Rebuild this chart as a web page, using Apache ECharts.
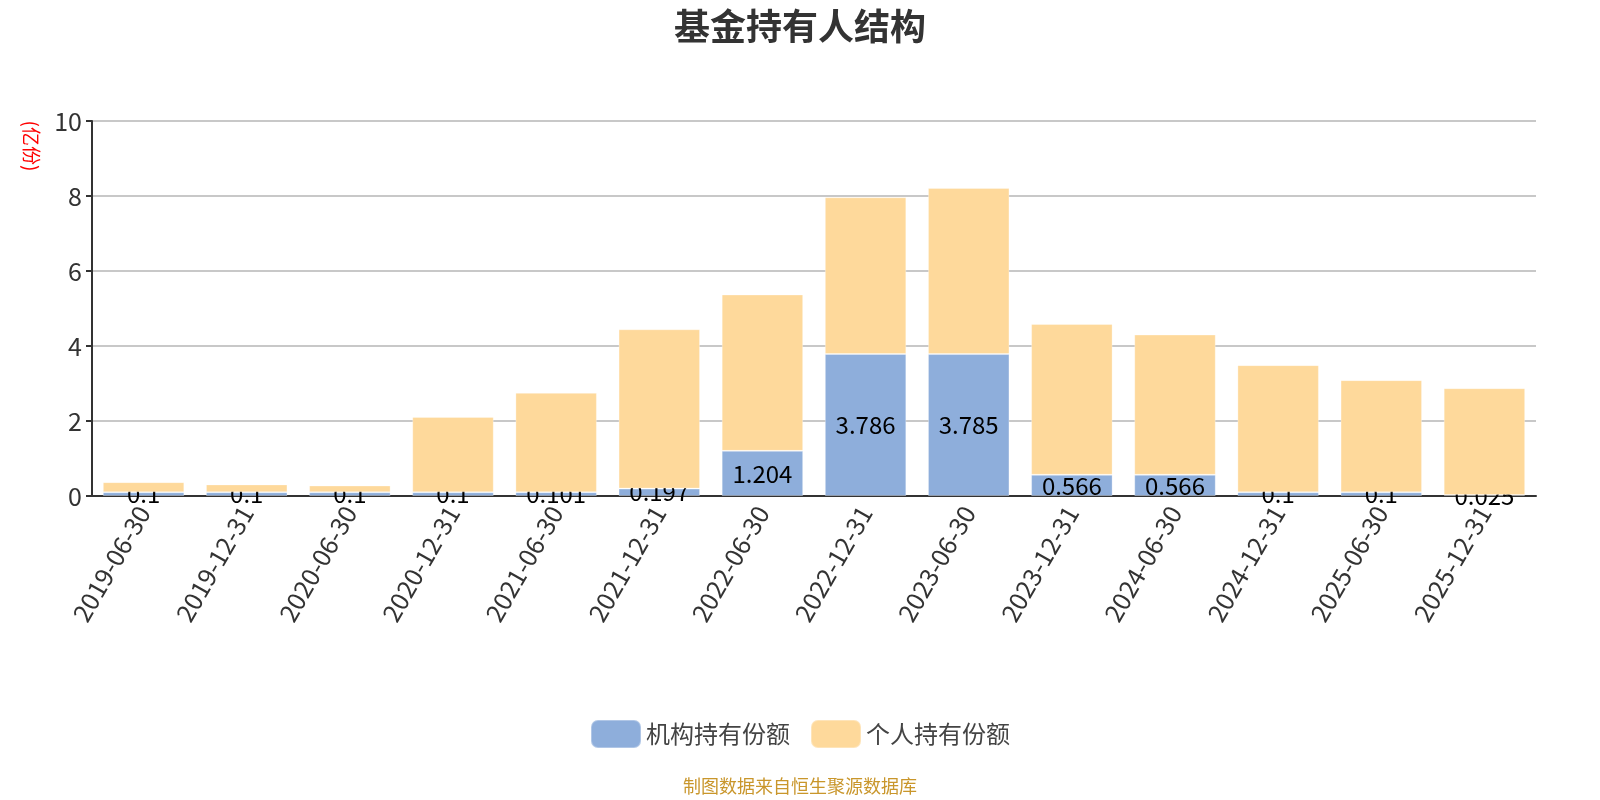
<!DOCTYPE html>
<html>
<head>
<meta charset="utf-8">
<script src="https://cdn.jsdelivr.net/npm/echarts@6/dist/echarts.min.js"></script>
<style>
  html, body { margin: 0; padding: 0; background: #fff; }
  #main { width: 1600px; height: 800px; }
</style>
</head>
<body>
<div id="main"></div>
<script>
// 报告期
var dates = ['2019-06-30', '2019-12-31', '2020-06-30', '2020-12-31', '2021-06-30', '2021-12-31', '2022-06-30',
  '2022-12-31', '2023-06-30', '2023-12-31', '2024-06-30', '2024-12-31', '2025-06-30', '2025-12-31'];
// 机构持有份额(亿份)
var orgShares = [0.1, 0.1, 0.1, 0.1, 0.101, 0.197, 1.204, 3.786, 3.785, 0.566, 0.566, 0.1, 0.1, 0.025];
// 个人持有份额(亿份)
var personShares = [0.27, 0.21, 0.18, 2.01, 2.65, 4.25, 4.17, 4.18, 4.43, 4.02, 3.74, 3.39, 2.99, 2.85];
var yTicks = [0, 2, 4, 6, 8, 10];

var fontName = '"Noto Sans CJK SC", "Noto Sans", sans-serif';

var chart = echarts.init(document.getElementById('main'));

var option = {
  animation: false,
  textStyle: { fontFamily: fontName },
  title: {
    text: '基金持有人结构',
    left: 'center',
    top: 3,
    textStyle: { fontSize: 36, fontWeight: 'bold', color: '#333', fontFamily: fontName }
  },
  legend: {
    bottom: 46,
    left: 'center',
    itemWidth: 50,
    itemHeight: 28,
    itemGap: 20,
    textStyle: { fontSize: 24, color: '#444', fontFamily: fontName },
    data: [
      { name: '机构持有份额', icon: 'roundRect' },
      { name: '个人持有份额', icon: 'roundRect' }
    ]
  },
  grid: {
    left: 92,
    right: 64,
    top: 121,
    bottom: 304
  },
  xAxis: {
    type: 'category',
    data: dates,
    axisLine: { lineStyle: { color: '#333', width: 2 } },
    axisTick: { lineStyle: { color: '#333', width: 2 }, length: 6 },
    axisLabel: { rotate: 60, fontSize: 25, color: '#333', margin: 12, fontFamily: fontName }
  },
  yAxis: {
    type: 'value',
    min: yTicks[0],
    max: yTicks[yTicks.length - 1],
    interval: 2,
    axisLine: { show: true, lineStyle: { color: '#333', width: 2 } },
    axisTick: { show: true, lineStyle: { color: '#333', width: 2 }, length: 6 },
    axisLabel: { fontSize: 25, color: '#333', margin: 10, fontFamily: fontName },
    splitLine: { lineStyle: { color: '#c8c8c8', width: 2 } }
  },
  graphic: [
    {
      type: 'text',
      x: 31,
      y: 146,
      rotation: -Math.PI / 2,
      style: {
        text: '(亿份)',
        fill: '#ff0000',
        font: '19px "Noto Sans CJK SC", sans-serif',
        textAlign: 'center',
        textVerticalAlign: 'middle'
      }
    },
    {
      type: 'text',
      left: 'center',
      top: 777,
      style: {
        text: '制图数据来自恒生聚源数据库',
        fill: '#c9962b',
        font: '18px "Noto Sans CJK SC", sans-serif'
      }
    }
  ],
  series: [
    {
      name: '机构持有份额',
      type: 'bar',
      stack: 'total',
      barWidth: '79%',
      z: 2,
      data: orgShares,
      itemStyle: { color: '#8eaedb', borderColor: 'rgba(255,255,255,0.3)', borderWidth: 1 },
      label: {
        show: true,
        position: 'inside',
        color: '#000',
        fontSize: 24,
        fontFamily: fontName
      }
    },
    {
      name: '个人持有份额',
      type: 'bar',
      stack: 'total',
      barWidth: '79%',
      // 盖住下层标签的上半部分
      z: 3,
      data: personShares,
      itemStyle: { color: '#fed99b', borderColor: 'rgba(255,255,255,0.3)', borderWidth: 1 }
    }
  ]
};

chart.setOption(option);
</script>
</body>
</html>
